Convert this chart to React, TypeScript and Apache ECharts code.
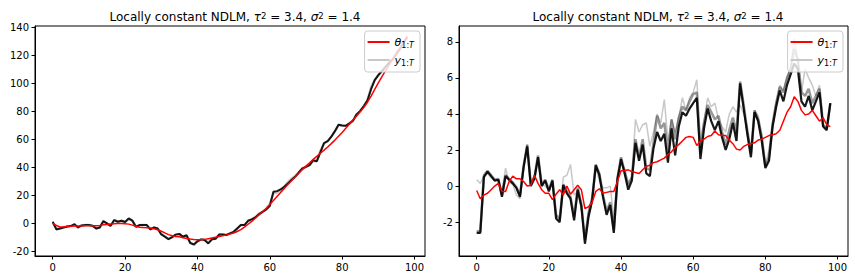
import React, { useEffect, useRef } from "react";
import * as echarts from "echarts";

const xTicks = [0, 20, 40, 60, 80, 100];
const leftYTicks = [-20, 0, 20, 40, 60, 80, 100, 120, 140];
const rightYTicks = [-2, 0, 2, 4, 6, 8];

const leftTheta = [
  0, -1.5, -2.5, -2.5, -2.2, -2.0, -1.8, -1.9, -1.8, -1.7,
  -1.7, -1.6, -1.6, -1.4, -1.0, -0.7, -0.5, -0.2, 0.0, 0.0,
  -0.2, -0.5, -1.2, -2.0, -2.8, -3.0, -3.1, -3.3, -3.8, -4.5,
  -5.5, -6.8, -8.0, -8.8, -9.3, -9.6, -10.2, -10.8, -11.2, -11.5,
  -11.7, -11.7, -11.4, -10.9, -10.4, -9.9, -9.4, -8.8, -8.2, -7.5,
  -6.8, -5.8, -4.4, -2.6, -0.6, 1.5, 3.7, 6.0, 8.4, 10.9,
  13.6, 16.4, 19.3, 22.2, 25.0, 27.8, 30.5, 33.2, 35.9, 38.5,
  41.0, 43.4, 45.8, 48.0, 50.2, 52.4, 54.7, 57.1, 59.6, 62.3,
  65.1, 68.0, 71.0, 74.0, 76.9, 79.8, 83.0, 86.7, 91.0, 95.8,
  100.5, 105.0, 109.3, 113.4, 117.5, 121.5, 125.5, 129.6, 133.8,
];

const leftSample = [
  1.2, -4.3, -3.6, -2.9, -2.2, -1.9, -0.5, -2.9, -1.4, -1.2,
  -1.2, -1.7, -3.6, -2.9, 1.7, 0.0, -1.7, 2.4, 1.2, 1.9,
  1.0, 3.6, 2.0, -2.4, -1.2, -1.2, -1.2, -4.3, -2.9, -3.6,
  -7.9, -9.5, -11.2, -9.8, -8.0, -7.5, -9.5, -8.5, -14.0, -15.0,
  -12.8, -11.4, -11.9, -14.3, -11.4, -11.0, -8.0, -7.9, -8.3, -7.1,
  -6.0, -3.6, -1.2, -1.2, 1.9, 2.9, 4.3, 6.5, 8.3, 10.0,
  12.4, 22.6, 23.1, 24.3, 26.2, 28.6, 31.0, 33.3, 36.4, 39.3,
  40.5, 41.7, 45.2, 44.5, 51.0, 57.5, 58.8, 62.0, 66.0, 70.5,
  70.0, 69.8, 71.5, 73.5, 78.0, 80.5, 84.0, 88.0, 96.0, 102.5,
  106.0, 109.0, 112.0, 115.0, 117.5, 121.0, 125.0, 129.5, 133.0,
];

const leftObs = [
  0.5, -3.5, -3.6, -2.9, -2.2, -1.9, -1.0, -2.9, -1.4, -1.2,
  -1.2, -1.7, -3.6, -2.9, 1.0, 0.0, -1.7, 2.4, 1.2, 1.9,
  1.0, 3.0, 2.0, -2.4, -1.2, -1.2, -1.2, -4.3, -2.9, -3.6,
  -7.0, -9.5, -11.2, -9.8, -8.0, -7.5, -9.5, -8.5, -13.5, -15.5,
  -12.8, -11.4, -11.9, -13.5, -11.4, -11.0, -8.0, -7.9, -8.3, -7.1,
  -6.0, -3.6, -1.2, -1.2, 1.9, 2.9, 4.3, 7.2, 8.3, 10.0,
  14.0, 21.5, 22.0, 24.3, 26.2, 29.5, 32.0, 34.0, 36.4, 39.3,
  40.5, 41.7, 44.5, 44.5, 52.0, 57.5, 58.8, 62.0, 66.0, 70.5,
  70.0, 69.8, 71.5, 73.5, 78.0, 80.5, 84.0, 88.0, 97.5, 102.5,
  106.0, 109.0, 112.0, 115.0, 117.5, 122.5, 125.0, 129.5, 134.0,
];

const rightTheta = [
  -0.25, -0.7, -0.5, -0.4, -0.2, 0.0, 0.15, -0.3, -0.3, 0.25,
  0.55, 0.4, 0.4, 0.25, 0.0, 0.05, 0.6, 0.15, -0.2, -0.4,
  -0.4, -0.75, -0.45, -0.2, -0.5, 0.0, -0.45, -0.2, 0.05, -0.2,
  -1.25, -1.15, -0.9, -0.3, -0.15, -0.4, -0.35, -0.3, -0.3, 0.25,
  0.85, 0.85, 0.9, 0.8, 0.75, 0.7, 0.9, 1.1, 1.15, 1.3,
  1.35, 1.45, 1.55, 1.75, 1.9, 2.15, 2.3, 2.5, 2.7, 2.75,
  2.7, 2.25, 2.5, 2.6, 2.75, 2.8, 3.05, 2.85, 2.8, 2.8,
  2.55, 2.35, 2.05, 2.0, 2.2, 2.3, 2.35, 2.4, 2.55, 2.6,
  2.7, 2.8, 2.85, 2.9, 3.1, 3.6, 4.1, 4.4, 4.95, 4.7,
  4.2, 3.95, 4.0, 4.2, 3.9, 3.6, 3.8, 3.4, 3.3,
];

const rightSample = [
  -2.6, -2.6, 0.5, 0.8, 0.55, 0.3, 0.35, -0.6, 0.55, 0.35,
  0.15, -0.1, -0.6, 1.05, 2.2, 0.0, 0.4, 1.6, 0.0, 0.3,
  -0.3, 0.3, -1.8, -2.0, 0.05, -0.4, -0.7, -1.9, -0.2, -1.1,
  -3.2, -1.7, -0.8, 1.15, 0.6, -0.6, -1.6, -1.05, -2.6, 0.35,
  1.5, 0.7, -0.2, 0.3, 2.4, 1.4, 2.3, 0.7, 0.55, 2.1,
  3.0, 2.5, 2.9, 1.3, 3.2, 1.7, 3.3, 4.1, 3.9, 4.3,
  4.6, 4.9, 1.5, 3.2, 4.3, 3.6, 3.1, 3.6, 2.7, 2.0,
  2.6, 3.5, 2.5, 5.7, 4.3, 2.9, 1.6, 4.1, 3.6, 2.5,
  1.0, 1.4, 3.3, 4.4, 5.3, 4.7, 5.6, 6.2, 6.8, 6.5,
  4.7, 4.4, 5.0, 4.2, 4.7, 5.2, 3.3, 3.1, 4.6,
];

const rightSampleHi = [
  -2.5, -2.5, 0.6, 0.85, 0.6, 0.35, 0.4, -0.5, 0.6, 0.4,
  0.2, -0.05, -0.5, 1.1, 2.3, 0.1, 0.5, 1.7, 0.1, 0.35,
  -0.2, 0.35, -1.6, -1.8, 0.1, -0.3, -0.6, -1.7, -0.1, -1.0,
  -3.0, -1.5, -0.7, 1.2, 0.7, -0.5, -1.4, -0.9, -2.4, 0.4,
  1.6, 0.8, 0.1, 0.5, 2.6, 1.6, 2.6, 1.0, 0.9, 2.4,
  3.9, 3.2, 3.5, 1.8, 3.7, 2.6, 3.8, 4.4, 4.2, 4.7,
  5.1, 5.2, 1.8, 3.5, 4.5, 4.1, 3.7, 3.9, 3.0, 2.3,
  3.1, 3.8, 3.0, 5.8, 4.5, 3.0, 1.8, 4.2, 3.7, 2.7,
  1.1, 1.6, 3.4, 4.6, 5.5, 5.2, 6.0, 6.5, 7.6, 7.0,
  5.2, 5.0, 5.4, 4.6, 5.0, 5.4, 3.4, 3.2, 4.6,
];

const rightObs = [
  0.35, 0.15, 0.55, 0.7, 0.45, 0.3, 0.35, -0.3, 1.0, 0.2,
  0.1, -0.5, -0.7, 1.0, 2.3, 0.2, 0.5, 1.6, 0.1, 0.0,
  -0.2, 0.2, -1.6, -1.9, 0.5, 0.6, 1.2, -0.5, -0.3, -1.3,
  -2.8, -1.4, -0.5, 1.0, 0.3, -0.1, -0.1, 0.0, -1.8, 0.6,
  1.2, 1.0, 0.0, 0.5, 3.7, 3.0, 3.4, 3.5, 2.2, 3.0,
  4.0, 3.5, 4.8, 2.5, 3.7, 3.0, 3.8, 4.9, 4.2, 4.9,
  5.2, 5.9, 2.6, 3.6, 4.9, 4.4, 4.6, 3.7, 3.3, 3.0,
  4.0, 4.4, 4.1, 4.5, 4.0, 3.3, 2.0, 4.2, 3.9, 2.9,
  1.2, 2.0, 3.6, 4.7, 5.6, 5.3, 6.0, 6.6, 8.2, 7.0,
  5.2, 6.5, 6.0, 5.6, 5.0, 5.6, 3.4, 3.2, 4.5,
];

const FONT = "DejaVu Sans";
const pairs = (arr: number[]) => arr.map((v, i) => [i, v]);

const titleText =
  "Locally constant NDLM, {i|τ}{s|2}{n| = 3.4, }{i|σ}{s|2}{n| = 1.4}";
const titleRich = {
  n: { fontSize: 12, fontFamily: FONT, color: "#000" },
  i: { fontSize: 12, fontFamily: FONT, color: "#000", fontStyle: "italic" },
  s: { fontSize: 8.5, fontFamily: FONT, color: "#000", verticalAlign: "top" },
};

const legendRich = {
  i: { fontSize: 11, lineHeight: 14, fontFamily: FONT, color: "#000", fontStyle: "italic" },
  s: { fontSize: 8, fontFamily: FONT, color: "#000", verticalAlign: "bottom" },
  si: { fontSize: 8, fontFamily: FONT, color: "#000", fontStyle: "italic", verticalAlign: "bottom" },
};

function makeX(gridIndex: number) {
  return {
    type: "value",
    gridIndex,
    min: -4.9,
    max: 102.9,
    axisLine: { show: true, onZero: false, lineStyle: { color: "#000", width: 1 } },
    axisTick: { show: true, inside: false, length: 3.5, customValues: xTicks, lineStyle: { color: "#000" } },
    axisLabel: { customValues: xTicks, fontSize: 10, color: "#000", fontFamily: FONT, margin: 6 },
    splitLine: { show: false },
  };
}

function makeY(gridIndex: number, min: number, max: number, ticks: number[]) {
  return {
    type: "value",
    gridIndex,
    min,
    max,
    axisLine: { show: true, onZero: false, lineStyle: { color: "#000", width: 1 } },
    axisTick: { show: true, inside: false, length: 3.5, customValues: ticks, lineStyle: { color: "#000" } },
    axisLabel: { customValues: ticks, fontSize: 10, color: "#000", fontFamily: FONT, margin: 6 },
    splitLine: { show: false },
  };
}

function makeLegend(right: number) {
  return {
    data: ["theta", "y"],
    orient: "vertical",
    right,
    top: 31,
    icon: "rect",
    itemWidth: 22,
    itemHeight: 2,
    itemGap: 4,
    padding: [4, 6, 5, 3],
    backgroundColor: "rgba(255,255,255,0.8)",
    borderColor: "#cccccc",
    borderWidth: 1,
    borderRadius: 3,
    selectedMode: false,
    formatter: (name: string) =>
      name === "theta" ? "{i|θ}{s|1:}{si|T}" : "{i|y}{s|1:}{si|T}",
    textStyle: { fontSize: 11, lineHeight: 14, fontFamily: FONT, color: "#000", rich: legendRich },
  };
}

function line(name: string, data: number[], idx: number, color: string, width: number) {
  return {
    type: "line",
    name,
    xAxisIndex: idx,
    yAxisIndex: idx,
    data: pairs(data),
    showSymbol: false,
    symbol: "none",
    color,
    lineStyle: { color, width },
    silent: true,
  };
}

const option = {
  animation: false,
  backgroundColor: "#fff",
  title: [
    {
      text: titleText,
      left: 230,
      top: 6,
      textAlign: "center",
      textStyle: { fontSize: 12, fontWeight: "normal", fontFamily: FONT, color: "#000", rich: titleRich },
    },
    {
      text: titleText,
      left: 653,
      top: 6,
      textAlign: "center",
      textStyle: { fontSize: 12, fontWeight: "normal", fontFamily: FONT, color: "#000", rich: titleRich },
    },
  ],
  legend: [makeLegend(435), makeLegend(12)],
  grid: [
    { left: 35, top: 26, width: 390, height: 230, show: true, borderColor: "#000", borderWidth: 1, backgroundColor: "transparent" },
    { left: 459, top: 26, width: 389, height: 230, show: true, borderColor: "#000", borderWidth: 1, backgroundColor: "transparent" },
  ],
  xAxis: [makeX(0), makeX(1)],
  yAxis: [makeY(0, -23.3, 141.2, leftYTicks), makeY(1, -3.88, 8.88, rightYTicks)],
  series: [
    line("y", leftObs, 0, "#c8c8c8", 2.5),
    line("sample", leftSample, 0, "rgba(0,0,0,0.9)", 2),
    line("theta", leftTheta, 0, "#ff0000", 1.5),
    line("y", rightObs, 1, "#c8c8c8", 1.5),
    line("sample", rightSampleHi, 1, "rgba(0,0,0,0.4)", 2.5),
    line("sample", rightSample, 1, "rgba(0,0,0,0.9)", 2.2),
    line("theta", rightTheta, 1, "#ff0000", 1.5),
  ],
};

export default function App() {
  const ref = useRef<HTMLDivElement>(null);
  useEffect(() => {
    const chart = echarts.init(ref.current!, null, { renderer: "svg" });
    chart.setOption(option as any);
    return () => chart.dispose();
  }, []);
  return (
    <div
      ref={ref}
      style={{ position: "fixed", left: 0, top: 0, width: 855, height: 280, background: "#fff" }}
    />
  );
}
